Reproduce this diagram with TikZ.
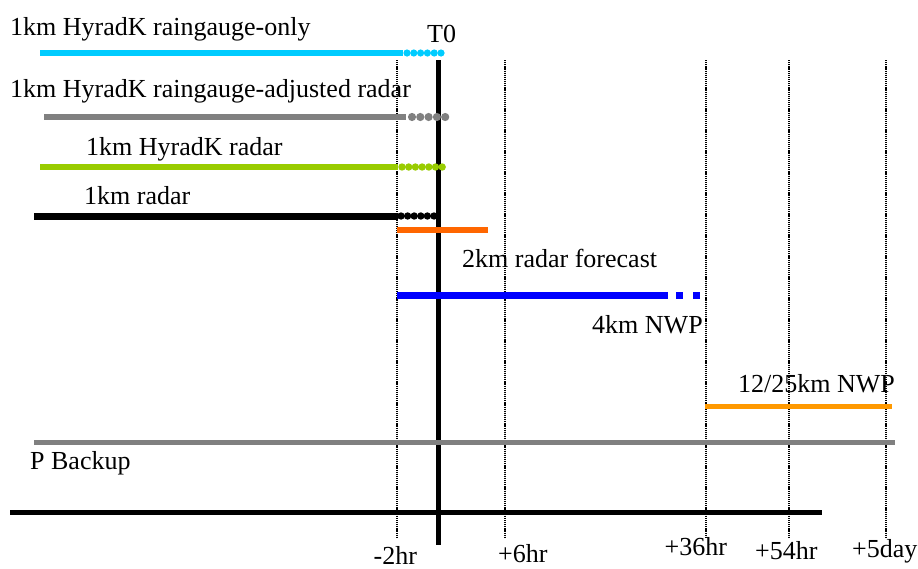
\documentclass[tikz,border=0pt]{standalone}
\usepackage{fontspec}
\setmainfont{Liberation Serif}
\definecolor{cy}{HTML}{00CCFF}
\definecolor{gr}{HTML}{808080}
\definecolor{gn}{HTML}{99CC00}
\definecolor{og}{HTML}{FF6600}
\definecolor{bl}{HTML}{0000FF}
\definecolor{og2}{HTML}{FF9900}
\begin{document}
\begin{tikzpicture}[x=1pt,y=-1pt,
  lbl/.style={anchor=base west,inner sep=0pt,font=\fontsize{26}{30}\selectfont},
  guide/.style={line width=1.2pt,dash pattern=on 1.2pt off 0.9pt},
  bar/.style={line width=6pt}]
\useasboundingbox (0,0) rectangle (918,568);
% guides
\foreach \x in {397,505,706,789,886} \draw[guide] (\x,60) -- (\x,537);
% T0 line and axis
\draw[line width=5pt] (438,60) -- (438,545);
\draw[line width=5pt] (10,512) -- (822,512);
% cyan
\draw[bar,cy] (40,53) -- (403,53);
\foreach \i in {0,...,5} \fill[cy] ({407+6.8*\i},53) circle (3.6);
% gray
\draw[bar,gr] (44,117) -- (406,117);
\foreach \i in {0,...,4} \fill[gr] ({412+8.3*\i},117) circle (4.1);
% green
\draw[bar,gn] (40,167) -- (398,167);
\foreach \i in {0,...,6} \fill[gn] ({402+6.7*\i},167) circle (3.7);
% black
\draw[line width=7pt] (34,216) -- (398,216);
\foreach \i in {0,...,5} \fill ({401+6.6*\i},216) circle (3.7);
% orange forecast
\draw[bar,og] (397,230) -- (488,230);
% blue NWP
\draw[line width=7pt,bl] (397,295) -- (668,295);
\draw[line width=7pt,bl] (676,295) -- (683,295);
\draw[line width=7pt,bl] (693,295) -- (700,295);
% orange NWP
\draw[line width=5pt,og2] (705,406) -- (892,406);
% P backup
\draw[line width=5pt,gr] (34,442) -- (895,442);
% labels
\node[lbl] (l1) at (10,35) {1km HyradK raingauge-only};
\node[lbl] (t0) at (427,42) {T0};
\node[lbl] (l2) at (10,97) {1km HyradK raingauge-adjusted radar};
\node[lbl] (l3) at (86,155) {1km HyradK radar};
\node[lbl] (l4) at (84,204) {1km radar};
\node[lbl] (l5) at (462,267) {2km radar forecast};
\node[lbl] (l6) at (592,333) {4km NWP};
\node[lbl] (l7) at (738,392) {12/25km NWP};
\node[lbl] (l8) at (30,469) {P Backup};
\node[lbl] (a1) at (373.5,564) {-2hr};
\node[lbl] (a2) at (498,562) {+6hr};
\node[lbl] (a3) at (664.5,555) {+36hr};
\node[lbl] (a4) at (755,559) {+54hr};
\node[lbl] (a5) at (852,557) {+5day};
\end{tikzpicture}
\end{document}
